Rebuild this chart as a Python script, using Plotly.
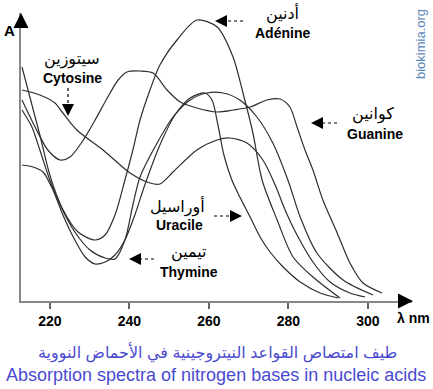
import plotly.graph_objects as go

# ---- data: wavelength (nm) and absorbance (arbitrary units) ----
adenine_nm = [213.0, 217.5, 220.0, 223.1, 227.1, 231.4, 233.9, 236.4, 238.9, 240.9, 242.7, 245.2, 247.7, 252.0,
              257.0, 262.1, 266.1, 268.6, 271.1, 273.4, 277.2, 281.2, 286.2, 293.0]
adenine_A = [0.936, 0.664, 0.504, 0.372, 0.276, 0.244, 0.264, 0.344, 0.484, 0.604, 0.724, 0.844, 0.944, 1.044,
             1.124, 1.096, 0.976, 0.832, 0.672, 0.484, 0.324, 0.176, 0.096, 0.012]

guanine_nm = [213.0, 216.3, 219.5, 222.6, 225.1, 228.1, 231.4, 234.6, 237.2, 239.4, 242.7, 246.0, 249.5, 252.8,
              257.0, 262.1, 266.1, 270.4, 274.6, 277.9, 280.4, 282.2, 284.2, 286.2, 288.7, 292.3, 295.5, 298.8, 303.6]
guanine_A = [0.804, 0.696, 0.604, 0.564, 0.576, 0.636, 0.724, 0.816, 0.884, 0.916, 0.92, 0.912, 0.844, 0.796,
             0.772, 0.756, 0.764, 0.776, 0.804, 0.808, 0.776, 0.696, 0.604, 0.524, 0.404, 0.272, 0.152, 0.072, 0.032]

cytosine_nm = [213.0, 217.5, 221.3, 223.1, 226.8, 233.4, 240.2, 245.2, 247.7, 251.0, 257.0, 262.1, 265.3, 269.6,
               273.6, 276.7, 279.2, 282.2, 286.2, 290.5, 295.5, 299.3]
cytosine_A = [0.844, 0.824, 0.792, 0.756, 0.684, 0.604, 0.512, 0.472, 0.468, 0.516, 0.604, 0.644, 0.652, 0.632,
              0.564, 0.464, 0.364, 0.264, 0.156, 0.076, 0.032, 0.016]

uracil_nm = [213.0, 215.8, 218.3, 220.8, 223.3, 226.3, 228.9, 231.4, 233.9, 236.4, 238.9, 241.4, 243.9, 247.7,
             251.5, 255.3, 259.0, 260.8, 262.3, 263.8, 265.8, 267.8, 270.4, 272.9, 275.4, 278.7, 283.0, 288.0, 292.5]
uracil_A = [0.544, 0.536, 0.516, 0.444, 0.344, 0.244, 0.176, 0.148, 0.156, 0.184, 0.244, 0.344, 0.464, 0.624,
            0.744, 0.812, 0.832, 0.804, 0.704, 0.584, 0.484, 0.416, 0.336, 0.256, 0.196, 0.136, 0.076, 0.032, 0.012]

thymine_nm = [213.0, 215.5, 217.5, 220.0, 222.6, 226.3, 230.1, 233.9, 236.4, 238.9, 240.9, 242.7, 247.0, 251.0,
              255.3, 259.5, 263.6, 267.8, 272.1, 276.1, 279.9, 283.0, 287.2, 293.8, 301.3]
thymine_A = [0.764, 0.696, 0.604, 0.484, 0.384, 0.276, 0.204, 0.172, 0.168, 0.244, 0.384, 0.496, 0.632, 0.736,
             0.804, 0.832, 0.832, 0.804, 0.736, 0.632, 0.484, 0.336, 0.192, 0.084, 0.024]

tick_vals = [220, 240, 260, 280, 300]
tick_text = ["220", "240", "260", "280", "300"]

series = [
    ("Adénine", adenine_nm, adenine_A),
    ("Guanine", guanine_nm, guanine_A),
    ("Cytosine", cytosine_nm, cytosine_A),
    ("Uracile", uracil_nm, uracil_A),
    ("Thymine", thymine_nm, thymine_A),
]

W, H = 433, 389
L, R, T, B = 21, 21, 13, 88
PW, PH = W - L - R, H - T - B


def P(px, py):
    return (px - L) / PW, (H - B - py) / PH


fig = go.Figure()
for name, xs, ys in series:
    fig.add_trace(go.Scatter(x=xs, y=ys, mode="lines", name=name,
                             line=dict(color="#2e2e2e", width=1.2, shape="spline", smoothing=0.8),
                             hoverinfo="skip"))

AR = "Liberation Sans, DejaVu Sans, Arial, sans-serif"
ann = []
shapes = []


def label(px, py, text, size, bold=False, color="black", **kw):
    x, y = P(px, py)
    ann.append(dict(xref="paper", yref="paper", x=x, y=y, text=text, showarrow=False,
                    xanchor="center", yanchor="middle",
                    font=dict(family=AR, size=size, color=color, weight="bold" if bold else "normal"), **kw))


def dashed_arrow(tx, ty, fx, fy):
    x0, y0 = P(fx, fy)
    dx, dy = tx - fx, ty - fy
    d = (dx * dx + dy * dy) ** 0.5
    ux, uy = dx / d, dy / d
    mx, my = tx - ux * 12, ty - uy * 12
    x1, y1 = P(mx, my)
    shapes.append(dict(type="line", xref="paper", yref="paper", x0=x0, y0=y0, x1=x1, y1=y1,
                       line=dict(color="black", width=1.2, dash="3px,3px")))
    x, y = P(tx, ty)
    ann.append(dict(xref="paper", yref="paper", x=x, y=y, ax=-ux * 13, ay=-uy * 13,
                    axref="pixel", ayref="pixel", text="", showarrow=True,
                    arrowhead=2, arrowsize=1.6, arrowwidth=1.5, arrowcolor="black"))


# labels
label(72, 59, "سيتوزين", 16)
label(72, 78, "Cytosine", 14, bold=True)
dashed_arrow(68, 116, 68, 88)

label(282, 14, "أدنين", 16)
label(282, 33, "Adénine", 14, bold=True)
dashed_arrow(215, 21, 243, 21)

label(373, 115, "كوانين", 16)
label(375, 134, "Guanine", 14, bold=True)
dashed_arrow(311, 123, 337, 123)

label(177, 206, "أوراسيل", 16)
label(179, 225, "Uracile", 14, bold=True)
dashed_arrow(242, 216, 214, 216)

label(189, 252, "تيمين", 16)
label(189, 272, "Thymine", 14, bold=True)
dashed_arrow(129, 259, 154, 259)

# axis labels
label(9, 30, "A", 15, bold=True)
label(413, 318, "λ nm", 14, bold=True)

# watermark
label(421, 44, "biokimia.org", 13, color="#5b86b8", textangle=-90)

# captions
label(217, 352, "طيف امتصاص القواعد النيتروجينية في الأحماض النووية", 16, color="#4a4ad0")
label(216, 375, "Absorption spectra of nitrogen bases in nucleic acids", 18, color="#4a4ad0")

# axis arrowheads
xt, yt = P(21, 13)
ann.append(dict(xref="paper", yref="paper", x=xt, y=yt, ax=0, ay=14, axref="pixel", ayref="pixel",
                text="", showarrow=True, arrowhead=2, arrowsize=1.5, arrowwidth=2, arrowcolor="black"))
xr, yr = P(413, 301)
ann.append(dict(xref="paper", yref="paper", x=xr, y=yr, ax=-14, ay=0, axref="pixel", ayref="pixel",
                text="", showarrow=True, arrowhead=2, arrowsize=1.5, arrowwidth=2, arrowcolor="black"))

x_lo = 260 + (L - 208.8) / 3.975
x_hi = 260 + (W - R - 208.8) / 3.975

fig.update_layout(
    width=W, height=H,
    margin=dict(l=L, r=R, t=T, b=B, pad=0),
    paper_bgcolor="white", plot_bgcolor="white",
    showlegend=False, hovermode=False,
    annotations=ann, shapes=shapes,
    xaxis=dict(range=[x_lo, x_hi], tickvals=tick_vals, ticktext=tick_text,
               showgrid=False, zeroline=False, showline=True, linecolor="#888888", linewidth=2,
               ticks="outside", ticklen=6, tickwidth=1.5, tickcolor="#666666",
               tickfont=dict(family=AR, size=14, color="black", weight="bold")),
    yaxis=dict(range=[0, (H - B - T) / 250], showgrid=False, zeroline=False, showline=True,
               linecolor="#888888", linewidth=2, showticklabels=False, ticks=""),
)

fig.write_html("out.html", config={"displayModeBar": False},
               post_script="document.body.style.margin='0px';document.body.style.overflow='hidden';")
